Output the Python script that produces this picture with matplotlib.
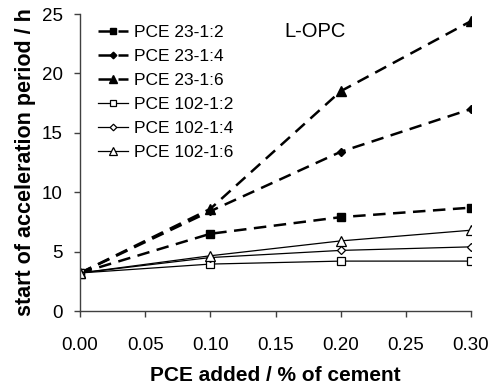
import matplotlib
matplotlib.use('Agg')
import matplotlib.pyplot as plt

plt.rcParams['font.family'] = ['Liberation Sans', 'DejaVu Sans']

dose = [0.0, 0.1, 0.2, 0.3]
pce23_12 = [3.2, 6.5, 7.9, 8.7]
pce23_14 = [3.2, 8.4, 13.4, 17.0]
pce23_16 = [3.2, 8.6, 18.5, 24.4]
pce102_12 = [3.2, 3.95, 4.2, 4.2]
pce102_14 = [3.2, 4.5, 5.1, 5.4]
pce102_16 = [3.2, 4.65, 5.9, 6.8]

fig = plt.figure(figsize=(4.92, 3.88), dpi=100)
ax = fig.add_axes([80/492, 77/388, 391/492, 297/388])

# PCE 23 series: thick dashed, filled markers
ax.plot(dose, pce23_12, color='black', lw=1.8, ls=(0, (5, 3)), marker='s', ms=6, mfc='black', label='PCE 23-1:2')
ax.plot(dose, pce23_14, color='black', lw=1.8, ls=(0, (5, 3)), marker='D', ms=4.2, mfc='black', label='PCE 23-1:4')
ax.plot(dose, pce23_16, color='black', lw=1.8, ls=(0, (5, 3)), marker='^', ms=6.5, mfc='black', label='PCE 23-1:6')
# PCE 102 series: thin solid, open markers
ax.plot(dose, pce102_12, color='black', lw=0.9, marker='s', ms=5.5, mfc='white', mew=0.9, label='PCE 102-1:2')
ax.plot(dose, pce102_14, color='black', lw=0.9, marker='D', ms=4.2, mfc='white', mew=0.9, label='PCE 102-1:4')
ax.plot(dose, pce102_16, color='black', lw=0.9, marker='^', ms=6.5, mfc='white', mew=0.9, label='PCE 102-1:6')

ax.set_xlim(0, 0.30)
ax.set_ylim(0, 25)
ax.set_xticks([0.0, 0.05, 0.10, 0.15, 0.20, 0.25, 0.30])
ax.set_xticklabels(['0.00', '0.05', '0.10', '0.15', '0.20', '0.25', '0.30'])
ax.set_yticks([0, 5, 10, 15, 20, 25])

for s in ['top', 'right']:
    ax.spines[s].set_visible(False)
for s in ['left', 'bottom']:
    ax.spines[s].set_color('#404040')
    ax.spines[s].set_linewidth(1.0)
ax.tick_params(direction='out', length=4.5, width=1.0, color='#404040', labelsize=13.5)
ax.tick_params(axis='x', pad=14)
ax.tick_params(axis='y', pad=8)

ax.set_xlabel('PCE added / % of cement', fontsize=15, fontweight='bold', labelpad=9)
ax.set_ylabel('start of acceleration period / h', fontsize=15.5, fontweight='bold', labelpad=4)

ax.text(0.18, 23.55, 'L-OPC', fontsize=14.5, ha='center', va='center')

ax.legend(loc='upper left', bbox_to_anchor=(0.046, 0.962), frameon=False, fontsize=12.5,
          handlelength=1.75, handletextpad=0.3, labelspacing=0.5, markerscale=0.8,
          borderpad=0, borderaxespad=0)

plt.savefig('out.png', dpi=100)
